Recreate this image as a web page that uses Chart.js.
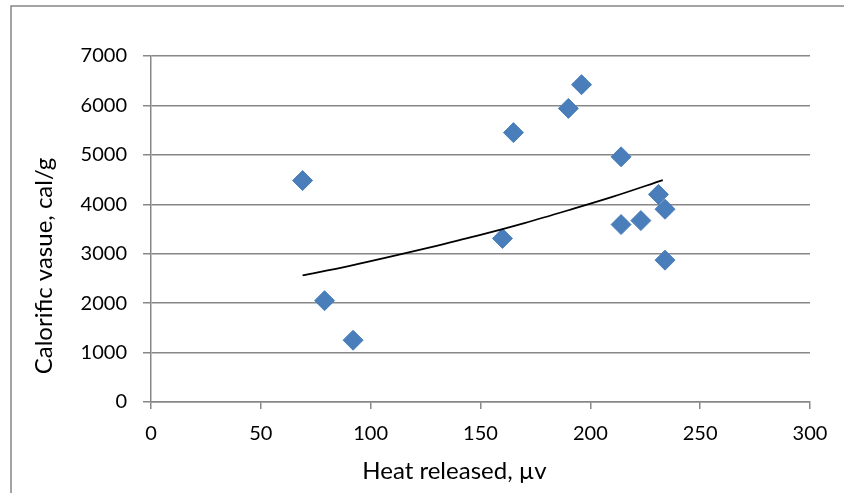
<!DOCTYPE html>
<html><head><meta charset="utf-8">
<script src="https://cdn.jsdelivr.net/npm/chart.js@4.4.0/dist/chart.umd.min.js"></script>
<style>html,body{margin:0;padding:0;background:#fff;overflow:hidden}#wrap{position:relative;width:844px;height:493px}</style>
</head><body><div id="wrap"><canvas id="c" width="844" height="493"></canvas></div>
<script>
const heatReleased   = [69, 79, 92, 160, 165, 190, 196, 214, 214, 223, 231, 234, 234];
const calorificValue = [4480, 2050, 1250, 3310, 5450, 5940, 6420, 4960, 3590, 3670, 4200, 3900, 2870];
const trendX = [69, 90, 110, 130, 150, 170, 190, 210, 233];
const trendY = [2560, 2750, 2950, 3160, 3380, 3620, 3880, 4150, 4490];
const xTickValues = [0, 50, 100, 150, 200, 250, 300];
const yTickValues = [0, 1000, 2000, 3000, 4000, 5000, 6000, 7000];
const xTitle = 'Heat released, µv';
const yTitle = 'Calorific vasue, cal/g';

const GRID = '#878787';
const FONT = 'Lato';

const points = heatReleased.map((x, i) => ({x: x, y: calorificValue[i]}));
const trend = trendX.map((x, i) => ({x: x, y: trendY[i]}));

const frame = {
  id: 'frame',
  beforeDraw(chart) {
    const ctx = chart.ctx;
    ctx.save();
    ctx.strokeStyle = GRID;
    ctx.lineWidth = 1.5;
    ctx.beginPath();
    ctx.moveTo(11, 493);
    ctx.lineTo(11, 6);
    ctx.lineTo(844, 6);
    ctx.stroke();
    ctx.restore();
  },
  afterDraw(chart) {
    const ctx = chart.ctx;
    ctx.save();
    ctx.fillStyle = '#000';
    ctx.font = '24px ' + FONT;
    ctx.textAlign = 'center';
    ctx.textBaseline = 'alphabetic';
    ctx.fillText(xTitle, 454.5, 479);
    ctx.translate(52, 266);
    ctx.rotate(-Math.PI / 2);
    ctx.fillText(yTitle, 0, 0);
    ctx.restore();
  }
};

new Chart(document.getElementById('c'), {
  type: 'scatter',
  data: {
    datasets: [
      {
        label: 'Calorific value',
        data: points,
        pointStyle: 'rectRot',
        pointRadius: 10,
        pointHoverRadius: 10,
        backgroundColor: '#4A7EBB',
        borderColor: '#4A7EBB',
        borderWidth: 1,
        showLine: false,
        order: 2
      },
      {
        label: 'Trend',
        data: trend,
        showLine: true,
        pointRadius: 0,
        borderColor: '#000',
        borderWidth: 1.75,
        cubicInterpolationMode: 'monotone',
        fill: false,
        order: 1
      }
    ]
  },
  options: {
    responsive: false,
    devicePixelRatio: 1,
    animation: false,
    events: [],
    layout: {padding: {left: 0, right: 34, top: 56, bottom: 0}},
    plugins: {legend: {display: false}, tooltip: {enabled: false}, title: {display: false}},
    scales: {
      x: {
        type: 'linear',
        min: 0, max: 300,
        afterBuildTicks(s) { s.ticks = xTickValues.map(v => ({value: v})); },
        afterFit(s) { s.height = 91; },
        ticks: {color: '#000', font: {family: FONT, size: 20}, padding: 13, maxRotation: 0,
                callback: v => String(v)},
        grid: {drawOnChartArea: false, drawTicks: true, tickLength: 7, color: GRID, lineWidth: 1.5},
        border: {display: true, color: GRID, width: 1.5}
      },
      y: {
        type: 'linear',
        min: 0, max: 7000,
        afterBuildTicks(s) { s.ticks = yTickValues.map(v => ({value: v})); },
        afterFit(s) { s.width = 151; },
        ticks: {color: '#000', font: {family: FONT, size: 20}, padding: 16,
                callback: v => String(v)},
        grid: {drawOnChartArea: true, drawTicks: true, tickLength: 8, color: GRID, lineWidth: 1.5},
        border: {display: true, color: GRID, width: 1.5}
      }
    }
  },
  plugins: [frame]
});
</script>
</body></html>
